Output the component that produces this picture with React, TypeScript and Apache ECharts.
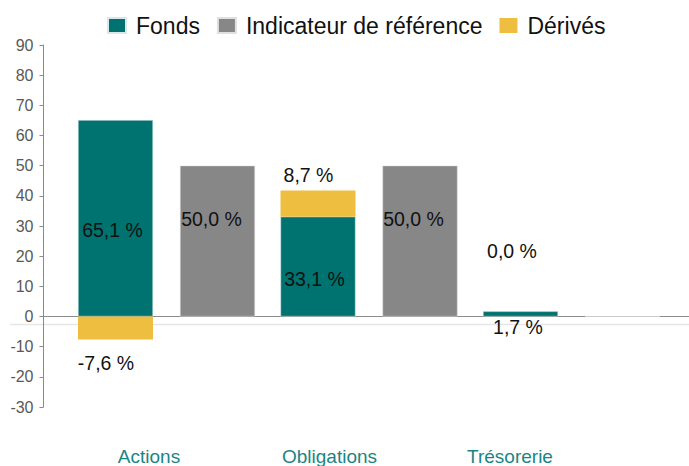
import React, { useEffect, useRef } from "react";
import * as echarts from "echarts";

const categories = ["Actions", "Obligations", "Trésorerie"];
const fondsValues = [65.1, 33.1, 1.7];
const indicateurValues = [50.0, 50.0, 0.0];
const derivesValues = [-7.6, 8.7, 0.0];
const yTicks = { min: -30, max: 90, interval: 10 };

const TEAL = "#00726F";
const GREY = "#878787";
const YELLOW = "#EDBE40";
const FONT = "'Liberation Sans', Arial, sans-serif";

const fmt = (v: number) => v.toFixed(1).replace(".", ",") + " %";

// label offsets (layout only)
const fondsOffsets = [[-3, 12], [-3.5, 12], [-2.5, 13.5]];
const indicOffsets = [[-6, -22.5], [-6.5, -22.5], null];
const derivOffsets = [[-9.5, 35.5], [-9.5, -29], [-8.5, -60]];

const GRID_TOP = 45;
const GRID_BOTTOM = 59;

export default function App() {
  const ref = useRef<HTMLDivElement>(null);
  useEffect(() => {
    if (!ref.current) return;
    const chart = echarts.init(ref.current, undefined, { renderer: "svg" });
    const labelBase = {
      show: true,
      position: "inside",
      color: "#111",
      fontSize: 19.5,
      fontFamily: FONT,
      formatter: (p: any) => fmt(p.value),
    };
    const mk = (vals: number[], offs: any[]) =>
      vals.map((v, i) => ({
        value: v,
        label: offs[i] ? { ...labelBase, offset: offs[i] } : { show: false },
      }));
    const zeroY = GRID_TOP + ((466 - GRID_TOP - GRID_BOTTOM) * yTicks.max) / (yTicks.max - yTicks.min);
    chart.setOption({
      animation: false,
      textStyle: { fontFamily: FONT },
      legend: {
        data: ["Fonds", "Indicateur de référence", "Dérivés"],
        left: 102,
        top: 9,
        itemWidth: 18,
        itemHeight: 15,
        itemGap: 17,
        icon: "rect",
        textStyle: { fontSize: 23, color: "#111", fontFamily: FONT, padding: [0, 0, 0, 5] },
      },
      graphic: [
        {
          type: "line",
          shape: { x1: 10, y1: zeroY + 8, x2: 689, y2: zeroY + 8 },
          style: { stroke: "#e6e6e6", lineWidth: 1.5 },
          z: 0,
        },
      ],
      grid: [
        { left: 65.25, right: 16.25, top: GRID_TOP, bottom: GRID_BOTTOM },
        { left: 58.75, right: 88.75, top: GRID_TOP, bottom: GRID_BOTTOM },
        { left: 43.5, right: 0, top: GRID_TOP, bottom: GRID_BOTTOM },
      ],
      xAxis: [
        {
          type: "category",
          data: categories,
          gridIndex: 0,
          axisLine: { show: false },
          axisTick: { show: false },
          axisLabel: { show: false },
        },
        {
          type: "category",
          data: categories,
          gridIndex: 1,
          position: "bottom",
          axisLine: { show: false, onZero: false },
          axisTick: { show: false },
          axisLabel: { color: "#1b8583", fontSize: 19, fontFamily: FONT, margin: 41 },
        },
        {
          type: "category",
          data: categories,
          gridIndex: 2,
          axisLine: { show: true, onZero: true, lineStyle: { color: "#8c8c8c", width: 1 } },
          axisTick: { show: false },
          axisLabel: { show: false },
        },
      ],
      yAxis: [
        {
          type: "value",
          gridIndex: 0,
          min: yTicks.min,
          max: yTicks.max,
          interval: yTicks.interval,
          offset: 21.75,
          splitLine: { show: false },
          axisLine: { show: true, lineStyle: { color: "#8a8a8a", width: 1 } },
          axisTick: { show: true, length: 4, lineStyle: { color: "#8a8a8a" } },
          axisLabel: { color: "#595959", fontSize: 16, fontFamily: FONT, margin: 10 },
        },
        {
          type: "value",
          gridIndex: 1,
          min: yTicks.min,
          max: yTicks.max,
          interval: yTicks.interval,
          show: false,
        },
        {
          type: "value",
          gridIndex: 2,
          min: yTicks.min,
          max: yTicks.max,
          interval: yTicks.interval,
          show: false,
        },
      ],
      series: [
        {
          name: "Fonds",
          type: "bar",
          stack: "a",
          xAxisIndex: 0,
          yAxisIndex: 0,
          barWidth: 75,
          barGap: "36%",
          itemStyle: { color: TEAL, borderColor: "#d9e8e8", borderWidth: 0.5 },
          data: mk(fondsValues, fondsOffsets),
          z: 3,
        },
        {
          name: "Indicateur de référence",
          type: "bar",
          xAxisIndex: 0,
          yAxisIndex: 0,
          barWidth: 75,
          barGap: "36%",
          itemStyle: { color: GREY, borderColor: "#e0e0e0", borderWidth: 0.5 },
          data: mk(indicateurValues, indicOffsets),
          z: 3,
        },
        {
          name: "Dérivés",
          type: "bar",
          stack: "a",
          xAxisIndex: 0,
          yAxisIndex: 0,
          barWidth: 75,
          barGap: "36%",
          itemStyle: { color: YELLOW },
          data: mk(derivesValues, derivOffsets),
          z: 3,
        },
      ],
    });
    return () => chart.dispose();
  }, []);
  return (
    <div
      ref={ref}
      style={{ position: "fixed", left: 0, top: 0, width: 689, height: 466, background: "#fff" }}
    />
  );
}
